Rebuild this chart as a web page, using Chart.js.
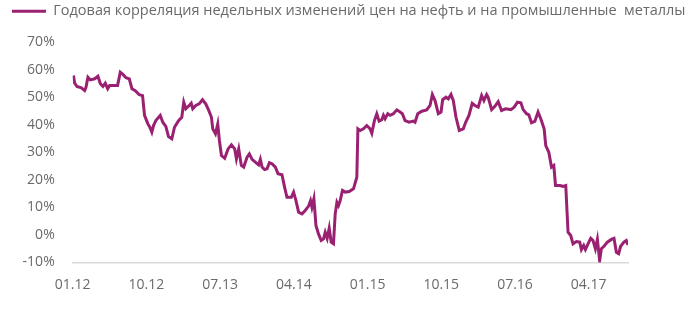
<!DOCTYPE html>
<html>
<head>
<meta charset="utf-8">
<script src="https://cdn.jsdelivr.net/npm/chart.js@4"></script>
<style>
  html, body { margin: 0; padding: 0; background: #fff; }
  #wrap { width: 696px; height: 315px; }
</style>
</head>
<body>
<div id="wrap"><canvas id="chart" width="696" height="315"></canvas></div>
<script>
// ---- data (x = months since Jan 2012, y = correlation, %) ----
const seriesLabel = "Годовая корреляция недельных изменений цен на нефть и на промышленные  металлы";

const monthPos = [
  0.09, 0.24, 0.52, 1.06, 1.46, 1.62, 1.86, 2.16, 2.68, 3.08, 3.38, 3.69, 3.98, 4.27, 4.51, 5.00,
  5.48, 5.81, 6.13, 6.50, 6.91, 7.23, 7.64, 8.13, 8.53, 8.77, 9.18, 9.42, 9.66, 9.87, 10.15, 10.69,
  11.00, 11.37, 11.70, 12.10, 12.43, 12.92, 13.32, 13.56, 13.81, 14.22, 14.47, 14.66, 15.03, 15.44, 15.84, 16.24,
  16.61, 16.94, 17.10, 17.43, 17.71, 17.91, 18.16, 18.56, 18.97, 19.38, 19.78, 19.99, 20.27, 20.59, 20.88, 21.29,
  21.57, 21.90, 22.30, 22.70, 22.91, 23.12, 23.43, 23.73, 24.01, 24.34, 24.74, 25.07, 25.55, 25.87, 26.16, 26.69,
  26.97, 27.26, 27.58, 27.99, 28.39, 28.80, 29.04, 29.21, 29.45, 29.70, 30.01, 30.34, 30.62, 30.83, 31.07, 31.32,
  31.56, 31.84, 32.05, 32.26, 32.45, 32.66, 32.94, 33.27, 33.76, 34.28, 34.69, 34.82, 35.10, 35.50, 35.91, 36.31,
  36.52, 36.84, 37.13, 37.41, 37.74, 37.94, 38.14, 38.47, 38.75, 39.15, 39.57, 39.97, 40.25, 40.58, 41.07, 41.59,
  41.80, 42.13, 42.62, 43.22, 43.63, 43.91, 44.24, 44.64, 44.97, 45.17, 45.58, 45.86, 46.19, 46.47, 46.80, 47.20,
  47.69, 47.98, 48.38, 48.78, 49.11, 49.51, 49.93, 50.21, 50.54, 50.73, 51.15, 51.55, 51.95, 52.36, 52.85, 53.50,
  53.90, 54.31, 54.72, 55.00, 55.41, 55.69, 56.02, 56.42, 56.82, 57.15, 57.56, 57.76, 58.13, 58.46, 58.74, 58.95,
  59.47, 59.87, 60.20, 60.48, 60.81, 61.09, 61.50, 61.91, 62.11, 62.39, 62.60, 62.92, 63.25, 63.53, 63.82, 64.06,
  64.34, 64.55, 64.87, 65.28, 65.77, 66.09, 66.38, 66.66, 66.90, 67.30, 67.59, 67.80
];

const correlation = [
  58.0, 55.2, 54.0, 53.5, 52.5, 53.7, 57.4, 56.4, 56.8, 57.7, 55.0, 54.0, 55.2, 53.2, 54.4, 54.4,
  54.4, 59.2, 58.4, 57.2, 56.8, 53.2, 52.5, 51.0, 50.7, 43.5, 40.4, 39.2, 37.4, 39.8, 41.6, 43.5,
  41.0, 39.5, 35.8, 35.0, 39.2, 41.6, 42.8, 48.3, 45.9, 47.1, 47.9, 45.9, 47.1, 47.7, 49.2, 47.7,
  45.3, 42.8, 38.6, 36.8, 40.4, 34.4, 28.9, 27.9, 31.3, 32.8, 31.3, 27.7, 31.3, 25.3, 24.7, 28.3,
  29.5, 27.5, 26.5, 25.5, 27.5, 24.7, 23.8, 24.1, 26.3, 25.9, 24.7, 22.3, 21.9, 17.4, 13.7, 13.7,
  15.6, 12.5, 8.3, 7.7, 8.9, 10.5, 12.5, 10.1, 13.2, 3.5, 0.4, -2.0, -1.4, 1.0, -1.2, 2.5,
  -2.6, -3.2, 7.7, 11.9, 10.7, 12.5, 16.2, 15.6, 15.8, 16.8, 21.0, 38.6, 38.0, 38.6, 39.8, 38.6,
  37.0, 41.6, 44.1, 41.4, 41.9, 43.5, 42.3, 44.1, 43.5, 44.1, 45.5, 44.7, 44.1, 41.6, 41.0, 41.4,
  41.0, 44.1, 45.0, 45.5, 47.1, 51.1, 48.9, 44.1, 44.7, 49.2, 50.1, 49.5, 51.1, 48.9, 42.8, 38.0,
  38.6, 41.0, 43.5, 47.9, 47.1, 46.5, 50.7, 48.9, 51.1, 50.1, 45.6, 46.8, 48.5, 45.3, 45.9, 45.6,
  46.5, 48.3, 48.1, 45.6, 44.1, 43.7, 40.8, 41.3, 44.7, 42.3, 38.6, 32.5, 30.1, 24.7, 25.3, 18.0,
  18.0, 17.7, 18.0, 1.0, -0.2, -3.2, -2.4, -2.6, -5.3, -3.8, -5.3, -3.2, -1.2, -2.0, -5.0, -1.6,
  -9.3, -5.0, -4.1, -2.6, -1.6, -1.2, -6.3, -6.8, -4.1, -2.6, -2.0, -3.6
];

// x-axis ticks every 9 months
const tickMonths = [0, 9, 18, 27, 36, 45, 54, 63];
const tickLabels = ["01.12", "10.12", "07.13", "04.14", "01.15", "10.15", "07.16", "04.17"];

const lineColor = "#9a2171";
const textColor = "#6a6a6a";

// push plot area down below the legend
const legendGap = {
  id: "legendGap",
  beforeInit(chart) {
    const fit = chart.legend.fit;
    chart.legend.fit = function () {
      fit.call(this);
      this.height += 14;
    };
  },
};

new Chart(document.getElementById("chart"), {
  type: "line",
  data: {
    datasets: [
      {
        label: seriesLabel,
        data: monthPos.map((m, i) => ({ x: m, y: correlation[i] })),
        borderColor: lineColor,
        backgroundColor: lineColor,
        borderWidth: 3,
        pointRadius: 0,
        tension: 0,
      },
    ],
  },
  options: {
    responsive: false,
    animation: false,
    layout: { padding: { left: 8, right: 0, top: 0, bottom: 0 } },
    plugins: {
      legend: {
        position: "top",
        align: "start",
        labels: {
          usePointStyle: true,
          pointStyle: "line",
          pointStyleWidth: 34,
          padding: 4,
          color: textColor,
          font: { family: "'Open Sans'", size: 14.5 },
        },
      },
      tooltip: { enabled: false },
    },
    scales: {
      x: {
        type: "linear",
        min: 0,
        max: 67.8,
        afterBuildTicks: (axis) => {
          axis.ticks = tickMonths.map((v) => ({ value: v }));
        },
        afterFit: (scale) => {
          scale.height = 52.5;
        },
        grid: { display: true, drawOnChartArea: false, drawTicks: false },
        border: { display: true, color: "#d9d9d9", width: 1.5 },
        ticks: {
          padding: 14,
          color: textColor,
          font: { family: "'Open Sans'", size: 14 },
          maxRotation: 0,
          callback: (v) => tickLabels[tickMonths.indexOf(v)],
        },
      },
      y: {
        min: -10,
        max: 70,
        afterFit: (scale) => {
          scale.width = 64.7;
        },
        grid: { display: false },
        border: { display: false },
        ticks: {
          stepSize: 10,
          padding: 10,
          color: textColor,
          font: { family: "'Open Sans'", size: 14 },
          callback: (v) => v + "%",
        },
      },
      // empty right-hand axis that only reserves space to the right of the plot
      spacer: {
        position: "right",
        min: 0,
        max: 1,
        afterFit: (scale) => {
          scale.width = 68;
        },
        grid: { display: false },
        border: { display: false },
        ticks: { display: false },
      },
    },
  },
  plugins: [legendGap],
});
</script>
</body>
</html>
